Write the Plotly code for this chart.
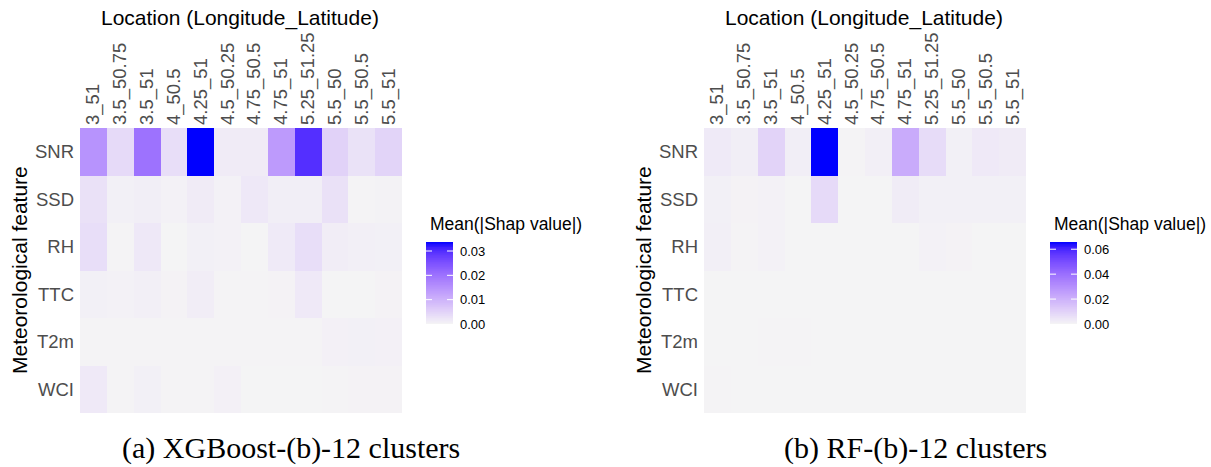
import plotly.graph_objects as go

# Mean |SHAP| per meteorological feature and location
features = ["SNR", "SSD", "RH", "TTC", "T2m", "WCI"]
locations = ["3_51", "3.5_50.75", "3.5_51", "4_50.5", "4.25_51", "4.5_50.25",
             "4.75_50.5", "4.75_51", "5.25_51.25", "5.5_50", "5.5_50.5", "5.5_51"]

xgb_shap = [
    [0.0150, 0.0040, 0.0200, 0.0034, 0.0337, 0.0015, 0.0015, 0.0138, 0.0297, 0.0052, 0.0029, 0.0050],
    [0.0030, 0.0008, 0.0010, 0.0006, 0.0015, 0.0006, 0.0020, 0.0010, 0.0010, 0.0030, 0.0003, 0.0005],
    [0.0035, 0.0003, 0.0020, 0.0002, 0.0008, 0.0006, 0.0002, 0.0017, 0.0035, 0.0012, 0.0009, 0.0008],
    [0.0008, 0.0006, 0.0009, 0.0004, 0.0012, 0.0003, 0.0003, 0.0004, 0.0018, 0.0002, 0.0002, 0.0004],
    [0.0003, 0.0003, 0.0003, 0.0003, 0.0003, 0.0003, 0.0003, 0.0003, 0.0003, 0.0007, 0.0008, 0.0007],
    [0.0018, 0.0003, 0.0008, 0.0003, 0.0003, 0.0007, 0.0002, 0.0002, 0.0002, 0.0003, 0.0004, 0.0004],
]

rf_shap = [
    [0.0033, 0.0020, 0.0099, 0.0020, 0.0658, 0.0005, 0.0018, 0.0220, 0.0072, 0.0015, 0.0035, 0.0030],
    [0.0015, 0.0008, 0.0012, 0.0004, 0.0079, 0.0003, 0.0003, 0.0025, 0.0015, 0.0015, 0.0015, 0.0015],
    [0.0018, 0.0005, 0.0012, 0.0004, 0.0004, 0.0004, 0.0004, 0.0004, 0.0012, 0.0008, 0.0004, 0.0004],
    [0.0003, 0.0003, 0.0003, 0.0003, 0.0003, 0.0003, 0.0003, 0.0003, 0.0003, 0.0003, 0.0003, 0.0003],
    [0.0004, 0.0004, 0.0005, 0.0005, 0.0004, 0.0004, 0.0004, 0.0004, 0.0004, 0.0004, 0.0004, 0.0004],
    [0.0005, 0.0003, 0.0003, 0.0003, 0.0003, 0.0003, 0.0003, 0.0003, 0.0003, 0.0003, 0.0003, 0.0003],
]

xgb_ticks = [0.00, 0.01, 0.02, 0.03]
rf_ticks = [0.00, 0.02, 0.04, 0.06]

W, H = 1211, 467


def px(x):
    return x / W


def py(y):
    return 1 - y / H


# --- gradient interpolated in CIELAB, low -> high ---
def hex_to_rgb(h):
    h = h.lstrip("#")
    return [int(h[i:i + 2], 16) / 255 for i in (0, 2, 4)]


def srgb_to_lin(c):
    return c / 12.92 if c <= 0.04045 else ((c + 0.055) / 1.055) ** 2.4


def lin_to_srgb(c):
    c = max(0.0, min(1.0, c))
    return 12.92 * c if c <= 0.0031308 else 1.055 * c ** (1 / 2.4) - 0.055


WHITE = (0.95047, 1.0, 1.08883)


def rgb_to_lab(rgb):
    r, g, b = [srgb_to_lin(c) for c in rgb]
    X = 0.4124 * r + 0.3576 * g + 0.1805 * b
    Y = 0.2126 * r + 0.7152 * g + 0.0722 * b
    Z = 0.0193 * r + 0.1192 * g + 0.9505 * b

    def f(t):
        return t ** (1 / 3) if t > 0.008856 else 7.787 * t + 16 / 116

    fx, fy, fz = f(X / WHITE[0]), f(Y / WHITE[1]), f(Z / WHITE[2])
    return (116 * fy - 16, 500 * (fx - fy), 200 * (fy - fz))


def lab_to_rgb(lab):
    L, a, b = lab
    fy = (L + 16) / 116
    fx = fy + a / 500
    fz = fy - b / 200

    def finv(t):
        return t ** 3 if t ** 3 > 0.008856 else (t - 16 / 116) / 7.787

    X, Y, Z = finv(fx) * WHITE[0], finv(fy) * WHITE[1], finv(fz) * WHITE[2]
    r = 3.2406 * X - 1.5372 * Y - 0.4986 * Z
    g = -0.9689 * X + 1.8758 * Y + 0.0415 * Z
    bb = 0.0557 * X - 0.2040 * Y + 1.0570 * Z
    return "rgb({},{},{})".format(*[round(lin_to_srgb(c) * 255) for c in (r, g, bb)])


def lab_scale(low, high, n=16):
    l0, l1 = rgb_to_lab(hex_to_rgb(low)), rgb_to_lab(hex_to_rgb(high))
    return [[i / (n - 1), lab_to_rgb([l0[k] + (l1[k] - l0[k]) * i / (n - 1) for k in range(3)])]
            for i in range(n)]


scale = lab_scale("#F5F5F5", "#0000FF")

# panel geometry in pixels
panels = [
    dict(z=xgb_shap, x0=80, x1=402, cbx=426, ticks=xgb_ticks,
         caption="(a) XGBoost-(b)-12 clusters", cap_x=291, xt_x=240, yt_x=19),
    dict(z=rf_shap, x0=704, x1=1026, cbx=1050, ticks=rf_ticks,
         caption="(b) RF-(b)-12 clusters", cap_x=915, xt_x=864, yt_x=643),
]
top, bottom = 128, 413
cb_top, cb_len, cb_w, cb_tick = 242, 82, 27, 6
cb_steps = 120

fig = go.Figure()
annotations = []
shapes = []
sans = "Liberation Sans, Arial, sans-serif"
tick_font = dict(family=sans, size=18.5, color="#4D4D4D")
title_font = dict(family=sans, size=21, color="black")

for i, p in enumerate(panels):
    zmax = max(max(r) for r in p["z"])
    hx, hy = 2 * i + 1, 2 * i + 2  # axis indices: heatmap, legend bar
    hxs = "" if hx == 1 else str(hx)
    lxs = str(hy)

    # main heatmap
    fig.add_trace(go.Heatmap(
        z=p["z"], x=locations, y=features, xaxis="x" + hxs, yaxis="y" + hxs,
        colorscale=scale, zmin=0, zmax=zmax, showscale=False, xgap=0, ygap=0,
    ))
    # colour legend bar drawn as a one-column heatmap on its own axes
    ramp = [zmax * k / (cb_steps - 1) for k in range(cb_steps)]
    fig.add_trace(go.Heatmap(
        z=[[v] for v in ramp], y=ramp, x=[0], xaxis="x" + lxs, yaxis="y" + lxs,
        colorscale=scale, zmin=0, zmax=zmax, showscale=False, hoverinfo="skip",
    ))
    for t in p["ticks"][1:]:
        for xa, xb in ((0, cb_tick / cb_w), (1 - cb_tick / cb_w, 1)):
            shapes.append(dict(type="line", xref="x" + lxs + " domain", yref="y" + lxs,
                               x0=xa, x1=xb, y0=t, y1=t,
                               line=dict(color="white", width=1), layer="above"))

    fig.update_layout(**{
        "xaxis" + hxs: dict(domain=[px(p["x0"]), px(p["x1"])], side="top", tickangle=-90,
                             showgrid=False, zeroline=False, ticks="", tickfont=tick_font,
                             anchor="y" + hxs, ticklabelstandoff=2, fixedrange=True,
                             automargin=False),
        "yaxis" + hxs: dict(domain=[py(bottom), py(top)], autorange="reversed",
                             showgrid=False, zeroline=False, ticks="", tickfont=tick_font,
                             anchor="x" + hxs, ticklabelstandoff=5, fixedrange=True,
                             automargin=False),
        "xaxis" + lxs: dict(domain=[px(p["cbx"]), px(p["cbx"] + cb_w)], range=[-0.5, 0.5],
                            showticklabels=False, showgrid=False, zeroline=False,
                            anchor="y" + lxs, fixedrange=True, automargin=False),
        "yaxis" + lxs: dict(domain=[py(cb_top + cb_len), py(cb_top)], range=[0, zmax],
                            side="right", tickvals=p["ticks"],
                            ticktext=["{:.2f}".format(t) for t in p["ticks"]],
                            showgrid=False, zeroline=False, ticks="",
                            tickfont=dict(family=sans, size=13, color="black"),
                            ticklabelstandoff=6, anchor="x" + lxs, fixedrange=True,
                            automargin=False),
    })
    annotations += [
        dict(text="Location (Longitude_Latitude)", x=px(p["xt_x"]), y=py(18), xref="paper", yref="paper",
             xanchor="center", yanchor="middle", showarrow=False, font=title_font),
        dict(text="Meteorological feature", x=px(p["yt_x"]), y=py(270), xref="paper", yref="paper",
             xanchor="center", yanchor="middle", textangle=-90, showarrow=False, font=title_font),
        dict(text="Mean(|Shap value|)", x=px(p["cbx"] + 2), y=py(224), xref="paper", yref="paper",
             xanchor="left", yanchor="middle", showarrow=False,
             font=dict(family=sans, size=17.5, color="black")),
        dict(text=p["caption"], x=px(p["cap_x"]), y=py(448), xref="paper", yref="paper",
             xanchor="center", yanchor="middle", showarrow=False,
             font=dict(family="Liberation Serif, Times New Roman, serif", size=30, color="black")),
    ]

fig.update_layout(
    width=W, height=H, margin=dict(l=0, r=0, t=0, b=0, autoexpand=False),
    paper_bgcolor="white", plot_bgcolor="white",
    annotations=annotations, shapes=shapes,
)

fig.write_html("out.html")
